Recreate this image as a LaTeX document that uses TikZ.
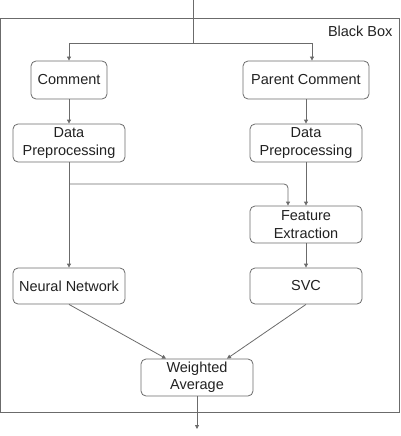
\documentclass[tikz,border=0pt]{standalone}
\usepackage{fontspec}
\setmainfont{Liberation Sans}
\usetikzlibrary{arrows.meta}
\definecolor{linec}{HTML}{6B6B6B}
\definecolor{textc}{HTML}{222222}
\begin{document}
\begin{tikzpicture}[x=1pt,y=-1pt,
  box/.style={draw=linec,line width=0.8pt,rounded corners=5pt,fill=white,text=textc,
    align=center,inner sep=0pt,font=\fontsize{14.5}{17.3}\selectfont},
  conn/.style={draw=linec,line width=0.8pt,-{Triangle[length=4pt,width=4pt]}},
  plain/.style={draw=linec,line width=0.8pt}]
\useasboundingbox (0,0) rectangle (400,436);
\draw[plain] (0.5,18) rectangle (399,412);
\node[anchor=east,text=textc,font=\fontsize{14.5}{17.3}\selectfont] (bb) at (396,31) {Black Box};
\node[box,minimum width=76pt,minimum height=38pt] (com) at (69,80) {Comment};
\node[box,minimum width=126pt,minimum height=38pt] (pc) at (306,80) {Parent Comment};
\node[box,minimum width=112pt,minimum height=38pt] (dpl) at (69,143) {Data\\Preprocessing};
\node[box,minimum width=112pt,minimum height=38pt] (dpr) at (306,143) {Data\\Preprocessing};
\node[box,minimum width=112pt,minimum height=37pt] (fe) at (306,224.5) {Feature\\Extraction};
\node[box,minimum width=112pt,minimum height=36pt] (nn) at (69,286) {Neural Network};
\node[box,minimum width=112pt,minimum height=36pt] (svc) at (306,286) {SVC};
\node[box,minimum width=112pt,minimum height=37pt] (wa) at (197,377.5) {Weighted\\Average};
\coordinate (in) at (193,0);
\coordinate (split) at (193,43);
\coordinate (out) at (197,429);
\draw[plain] (in) -- (split);
\draw[conn] (split) -| (com.north);
\draw[conn] (split) -| ([xshift=6pt]pc.north);
\draw[conn] (com) -- (dpl);
\draw[conn] (pc) -- (dpr);
\draw[conn] (dpl) -- (nn);
\draw[conn,rounded corners=4pt] (dpl.south |- 0,184) -| ([xshift=-18pt]fe.north);
\draw[conn] (dpr) -- (fe);
\draw[conn] (fe) -- (svc);
\draw[conn] (nn.south) -- ([xshift=-31pt]wa.north);
\draw[conn] (svc.south) -- ([xshift=30pt]wa.north);
\draw[conn] (wa.south) -- (out);
\end{tikzpicture}
\end{document}
